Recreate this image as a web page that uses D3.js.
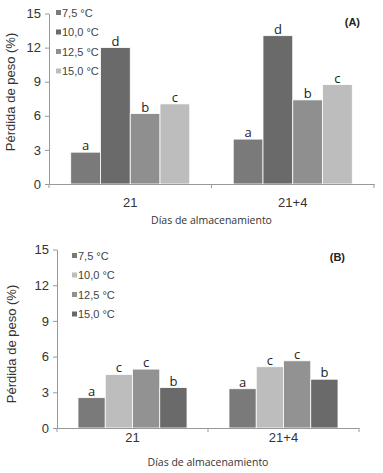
<!DOCTYPE html>
<html>
<head>
<meta charset="utf-8">
<script src="https://cdn.jsdelivr.net/npm/d3@7"></script>
<style>
  body { margin: 0; background: #fff; }
  text { font-family: "Liberation Sans", Arial, sans-serif; fill: #333; }
</style>
</head>
<body>
<div id="chart"></div>
<script>
// data
const days = ["21", "21+4"];
const temps = ["7,5 °C", "10,0 °C", "12,5 °C", "15,0 °C"];
const yTicks = [0, 3, 6, 9, 12, 15];

// panel A: weight loss (%) per temperature, by day
const valuesA = [
  [2.8, 12.0, 6.2, 7.05],
  [3.95, 13.05, 7.4, 8.75]
];
const lettersA = [
  ["a", "d", "b", "c"],
  ["a", "d", "b", "c"]
];
const colorsA = ["#7a7a7a", "#6a6a6a", "#8f8f8f", "#bdbdbd"];

// panel B
const valuesB = [
  [2.55, 4.5, 4.95, 3.4],
  [3.3, 5.15, 5.65, 4.1]
];
const lettersB = [
  ["a", "c", "c", "b"],
  ["a", "c", "c", "b"]
];
const colorsB = ["#7a7a7a", "#bdbdbd", "#929292", "#6a6a6a"];

const svg = d3.select("#chart").append("svg")
    .attr("width", 383)
    .attr("height", 473);

function drawPanel(opts) {
  const g = svg.append("g");

  const x0 = d3.scaleBand()
      .domain(days)
      .range([opts.left, opts.right])
      .padding(0);

  const x1 = d3.scaleBand()
      .domain(temps)
      .range([0, x0.bandwidth()])
      .paddingInner(0)
      .paddingOuter(opts.outer);

  const y = d3.scaleLinear()
      .domain([0, 15])
      .range([opts.bottom, opts.top]);

  // bars
  days.forEach((day, i) => {
    const grp = g.append("g").attr("transform", `translate(${x0(day)},0)`);
    grp.selectAll("rect")
        .data(temps)
        .enter()
        .append("rect")
          .attr("x", d => x1(d))
          .attr("y", (d, j) => y(opts.values[i][j]))
          .attr("width", x1.bandwidth())
          .attr("height", (d, j) => y(0) - y(opts.values[i][j]))
          .style("fill", (d, j) => opts.colors[j])
          .style("stroke", "#fff")
          .style("stroke-width", 0.8);
    grp.selectAll("text.lab")
        .data(temps)
        .enter()
        .append("text")
          .attr("class", "lab")
          .attr("x", d => x1(d) + x1.bandwidth() / 2)
          .attr("y", (d, j) => y(opts.values[i][j]) - 2)
          .attr("text-anchor", "middle")
          .style("font-family", "'Open Sans', sans-serif")
          .style("font-size", "13px")
          .style("fill", "#222")
          .text((d, j) => opts.letters[i][j]);
  });

  // Y axis
  const yAxis = g.append("g")
      .attr("transform", `translate(${opts.left},0)`)
      .call(d3.axisLeft(y).tickValues(yTicks).tickSize(4).tickSizeOuter(0));
  yAxis.select(".domain").attr("stroke", "#999");
  yAxis.selectAll(".tick line").attr("stroke", "#999");
  yAxis.selectAll(".tick text")
      .attr("x", -8)
      .style("font-size", "13px")
      .style("fill", "#333");

  // X axis
  const xAxis = g.append("g")
      .attr("transform", `translate(0,${opts.bottom})`)
      .call(d3.axisBottom(x0).tickSize(0).tickSizeOuter(0));
  xAxis.select(".domain").attr("stroke", "#999");
  xAxis.selectAll(".tick text")
      .attr("y", opts.tickY)
      .attr("dy", 0)
      .style("font-size", "13px")
      .style("fill", "#333");
  // category separators
  xAxis.selectAll("line.sep")
      .data([opts.left, x0(days[1]), opts.right])
      .enter()
      .append("line")
        .attr("class", "sep")
        .attr("x1", d => d).attr("x2", d => d)
        .attr("y1", 0).attr("y2", 4)
        .attr("stroke", "#999");

  // titles
  g.append("text")
      .attr("transform", `translate(${opts.left - opts.titleDX},${opts.titleY}) rotate(-90)`)
      .attr("text-anchor", "middle")
      .style("font-size", "13px")
      .text("Pérdida de peso (%)");

  g.append("text")
      .attr("x", (opts.left + opts.right) / 2)
      .attr("y", opts.bottom + opts.xTitleY)
      .attr("text-anchor", "middle")
      .style("font-family", "'Open Sans', sans-serif")
      .style("font-size", "10.5px")
      .text("Días de almacenamiento");

  g.append("text")
      .attr("x", opts.right - 14)
      .attr("y", opts.labelY)
      .attr("text-anchor", "end")
      .style("font-size", "11px")
      .style("font-weight", "bold")
      .style("fill", "#222")
      .text(opts.label);

  // legend
  const leg = g.selectAll("g.leg")
      .data(temps)
      .enter()
      .append("g")
        .attr("transform", (d, j) => `translate(${opts.legX},${opts.legY + j * 19.5})`);
  leg.append("rect")
      .attr("x", 0).attr("y", -3)
      .attr("width", 5).attr("height", 5)
      .style("fill", (d, j) => opts.colors[j]);
  leg.append("text")
      .attr("x", 6)
      .attr("y", 0)
      .attr("dy", "0.35em")
      .style("font-size", "11px")
      .style("fill", "#444")
      .text(d => d);
}

drawPanel({
  left: 49, right: 374, top: 13.5, bottom: 184, outer: 0.73,
  values: valuesA, letters: lettersA, colors: colorsA,
  label: "(A)", labelY: 26, legX: 56, legY: 13,
  tickY: 23, xTitleY: 40, titleDX: 34, titleY: 92
});

drawPanel({
  left: 57, right: 359, top: 249.5, bottom: 428, outer: 0.77,
  values: valuesB, letters: lettersB, colors: colorsB,
  label: "(B)", labelY: 261, legX: 72, legY: 256,
  tickY: 14, xTitleY: 38, titleDX: 41, titleY: 344
});
</script>
</body>
</html>
